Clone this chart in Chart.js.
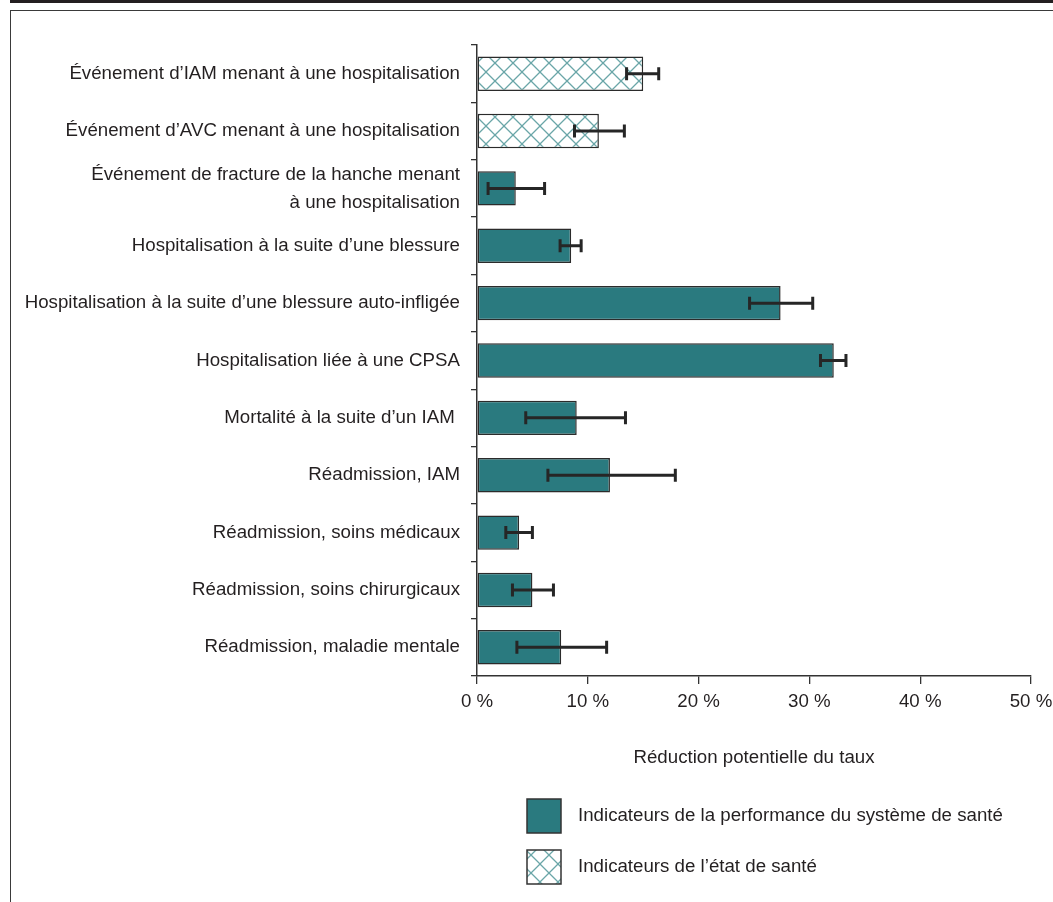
<!DOCTYPE html>
<html lang="fr">
<head>
<meta charset="utf-8">
<title>Réduction potentielle du taux</title>
<script src="https://cdn.jsdelivr.net/npm/chart.js@4.4.1/dist/chart.umd.min.js"></script>
<style>
  html, body { margin: 0; padding: 0; background: #fff; }
  body { width: 1053px; height: 902px; position: relative; overflow: hidden; }
  .topBar { position: absolute; left: 10px; right: 0; top: 0; height: 3px; background: #231f20; }
  .frame { position: absolute; left: 10px; right: 0; top: 10px; bottom: 0;
           border-top: 1.5px solid #3a3a3a; border-left: 1.5px solid #3a3a3a; }
  #chart { position: absolute; left: 0; top: 0; }
</style>
</head>
<body>
<div class="topBar"></div>
<div class="frame"></div>
<canvas id="chart" width="1053" height="902"></canvas>
<script>
// Indicators and their potential rate reduction (%)
const categories = [
    'Événement d’IAM menant à une hospitalisation',
    'Événement d’AVC menant à une hospitalisation',
    ['Événement de fracture de la hanche menant', 'à une hospitalisation'],
    'Hospitalisation à la suite d’une blessure',
    'Hospitalisation à la suite d’une blessure auto-infligée',
    'Hospitalisation liée à une CPSA',
    'Mortalité à la suite d’un IAM ',
    'Réadmission, IAM',
    'Réadmission, soins médicaux',
    'Réadmission, soins chirurgicaux',
    'Réadmission, maladie mentale'
];

const performanceValues = [null, null, 3.5, 8.5, 27.4, 32.2, 9.0, 12.0, 3.8, 5.0, 7.6];
const etatSanteValues   = [15.0, 11.0, null, null, null, null, null, null, null, null, null];

// Interval bounds drawn as error bars
const errorLow  = [13.5, 8.8, 1.0, 7.5, 24.6, 31.0, 4.4, 6.4, 2.6, 3.2, 3.6];
const errorHigh = [16.4, 13.3, 6.1, 9.4, 30.3, 33.3, 13.4, 17.9, 5.0, 6.9, 11.7];

const xTicks = [0, 10, 20, 30, 40, 50];

const seriesLabels = [
    'Indicateurs de la performance du système de santé',
    'Indicateurs de l’état de santé'
];

const TEAL = '#2a7a7f';
const INK = '#231f20';
const FONT = '"Liberation Sans", Arial, sans-serif';
const FONT_SIZE = 18.7;

// Lattice fill used for the health-status bars
function makeLattice() {
    const size = 18;
    const c = document.createElement('canvas');
    c.width = size;
    c.height = size;
    const g = c.getContext('2d');
    g.fillStyle = '#fff';
    g.fillRect(0, 0, size, size);
    g.strokeStyle = '#6aa6a8';
    g.lineWidth = 1.3;
    g.beginPath();
    g.moveTo(0, 0); g.lineTo(size, size);
    g.moveTo(size, 0); g.lineTo(0, size);
    g.stroke();
    return g.createPattern(c, 'repeat');
}
const lattice = makeLattice();

const errorBars = {
    id: 'errorBars',
    afterDatasetsDraw(chart) {
        const { ctx, scales: { x, y } } = chart;
        ctx.save();
        ctx.strokeStyle = '#262626';
        ctx.lineWidth = 3;
        ctx.lineCap = 'butt';
        errorLow.forEach((lo, i) => {
            const py = y.getPixelForValue(i);
            const x1 = x.getPixelForValue(lo);
            const x2 = x.getPixelForValue(errorHigh[i]);
            ctx.beginPath();
            ctx.moveTo(x1, py); ctx.lineTo(x2, py);
            ctx.moveTo(x1, py - 6.5); ctx.lineTo(x1, py + 6.5);
            ctx.moveTo(x2, py - 6.5); ctx.lineTo(x2, py + 6.5);
            ctx.stroke();
        });
        ctx.restore();
    }
};

// Vertical legend under the axis title
const stackedLegend = {
    id: 'stackedLegend',
    afterDraw(chart) {
        const { ctx, chartArea, scales: { x } } = chart;
        const left = chartArea.left + 50;
        let top = x.bottom + 30;
        ctx.save();
        ctx.font = FONT_SIZE + 'px ' + FONT;
        ctx.textBaseline = 'middle';
        chart.data.datasets.forEach(ds => {
            ctx.fillStyle = ds.backgroundColor;
            ctx.fillRect(left, top, 34, 34);
            ctx.strokeStyle = '#333';
            ctx.lineWidth = 1.5;
            ctx.strokeRect(left, top, 34, 34);
            ctx.fillStyle = INK;
            ctx.fillText(ds.label, left + 51, top + 17);
            top += 51;
        });
        ctx.restore();
    }
};

new Chart(document.getElementById('chart'), {
    type: 'bar',
    data: {
        labels: categories,
        datasets: [
            {
                label: seriesLabels[0],
                data: performanceValues,
                backgroundColor: TEAL
            },
            {
                label: seriesLabels[1],
                data: etatSanteValues,
                backgroundColor: lattice
            }
        ]
    },
    options: {
        indexAxis: 'y',
        responsive: false,
        animation: false,
        grouped: false,
        skipNull: true,
        barPercentage: 0.6,
        categoryPercentage: 1,
        borderColor: '#2b2b2b',
        borderWidth: 1.5,
        borderSkipped: false,
        layout: { padding: { top: 45, right: 22, bottom: 133, left: 0 } },
        plugins: {
            legend: { display: false },
            tooltip: { enabled: false }
        },
        scales: {
            x: {
                min: 0,
                max: 50,
                afterBuildTicks(scale) {
                    scale.ticks = xTicks.map(v => ({ value: v }));
                },
                afterFit(scale) {
                    scale.height = 93;
                    // the "50 %" label may overhang into the right margin
                    scale.paddingLeft = 0;
                    scale.paddingRight = 0;
                },
                grid: {
                    drawOnChartArea: false,
                    tickLength: 8,
                    color: '#333',
                    lineWidth: 1.3
                },
                border: { color: '#333', width: 1.5 },
                ticks: {
                    color: INK,
                    padding: 7,
                    font: { family: FONT, size: FONT_SIZE },
                    callback: v => v + ' %'
                },
                title: {
                    display: true,
                    text: 'Réduction potentielle du taux',
                    color: INK,
                    padding: 0,
                    font: { family: FONT, size: FONT_SIZE, lineHeight: 1.2 }
                }
            },
            y: {
                afterFit(scale) { scale.width = 477; },
                grid: {
                    drawOnChartArea: false,
                    tickLength: 6,
                    color: '#333',
                    lineWidth: 1.3
                },
                border: { color: '#333', width: 1.5 },
                ticks: {
                    color: INK,
                    padding: 11,
                    autoSkip: false,
                    font: { family: FONT, size: FONT_SIZE, lineHeight: 1.5 }
                }
            }
        }
    },
    plugins: [errorBars, stackedLegend]
});
</script>
</body>
</html>
